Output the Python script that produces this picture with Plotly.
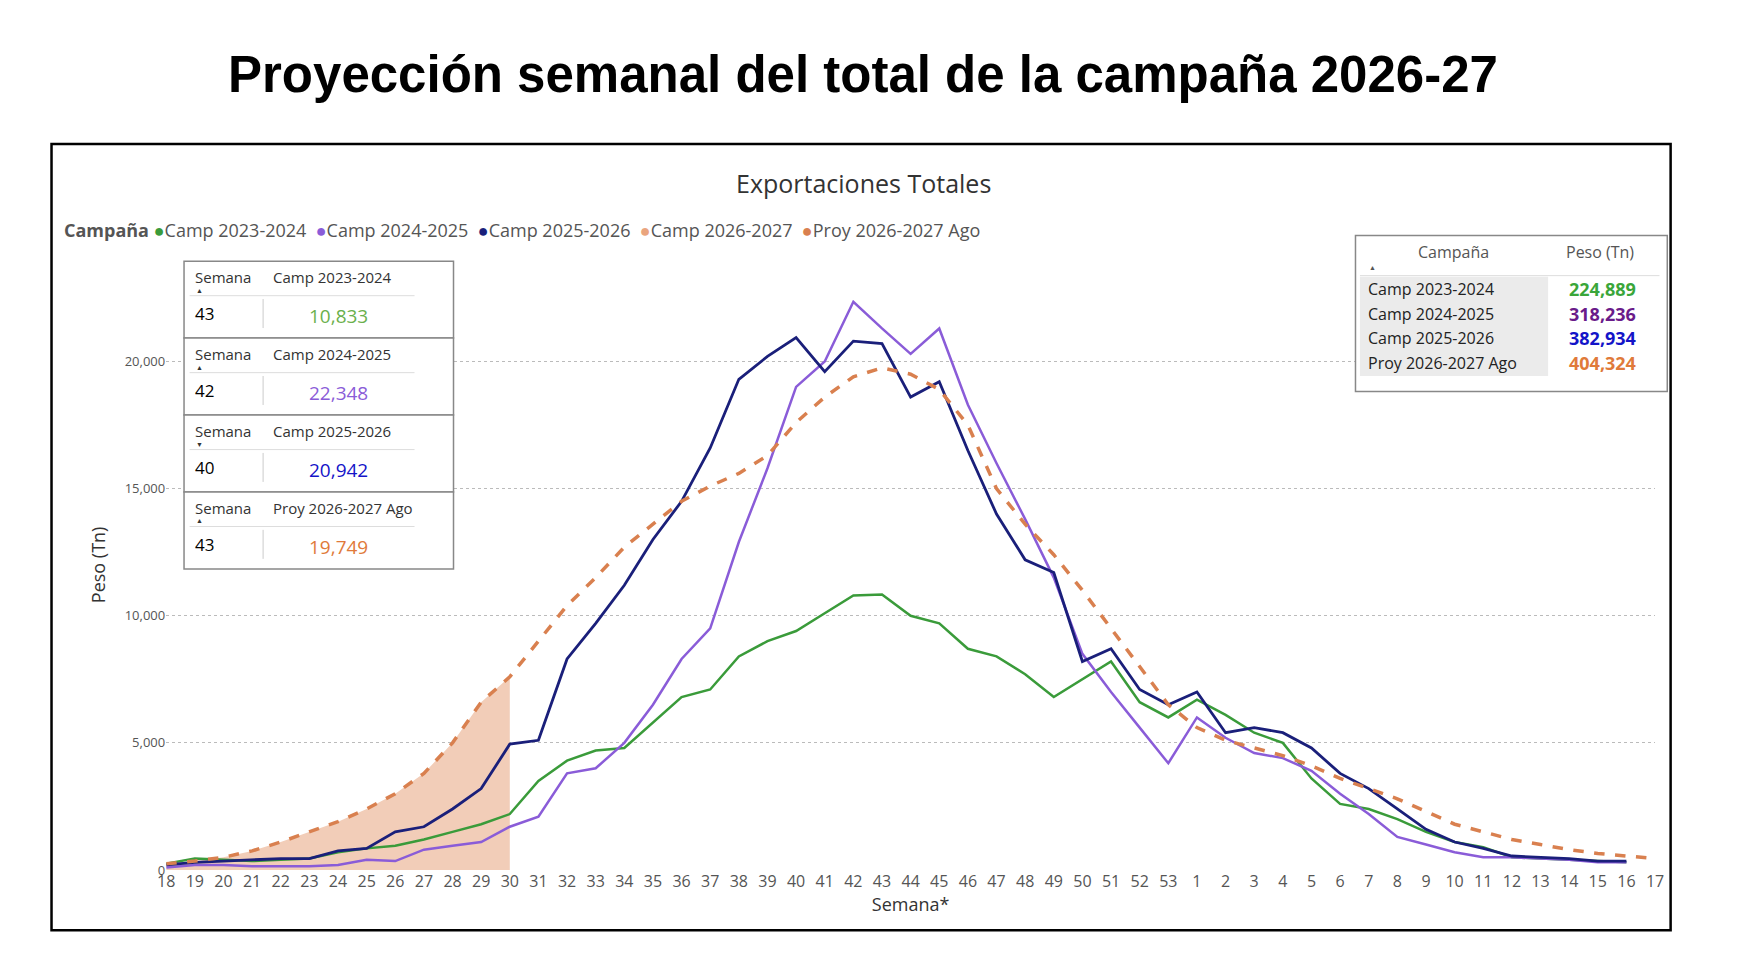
import plotly.graph_objects as go

weeks = [str(w) for w in list(range(18, 54)) + list(range(1, 18))]

camp_2023_24 = [0.25, 0.45, 0.4, 0.35, 0.4, 0.45, 0.7, 0.85, 0.95, 1.2, 1.5, 1.8, 2.2,
                3.5, 4.3, 4.7, 4.8, 5.8, 6.8, 7.1, 8.4, 9.0, 9.4, 10.1, 10.8, 10.833,
                10.0, 9.7, 8.7, 8.4, 7.7, 6.8, 7.5, 8.2, 6.6, 6.0, 6.7, 6.1, 5.4, 5.0,
                3.6, 2.6, 2.4, 2.0, 1.5, 1.1, 0.9, 0.5, 0.45, 0.4, 0.35, 0.3]
camp_2024_25 = [0.1, 0.2, 0.2, 0.15, 0.15, 0.15, 0.2, 0.4, 0.35, 0.8, 0.95, 1.1, 1.7,
                2.1, 3.8, 4.0, 5.0, 6.5, 8.3, 9.5, 12.9, 15.8, 19.0, 20.0, 22.348, 21.3,
                20.3, 21.3, 18.3, 16.0, 13.8, 11.5, 8.5, 7.0, 5.6, 4.2, 6.0, 5.2, 4.6,
                4.4, 3.9, 3.0, 2.2, 1.3, 1.0, 0.7, 0.5, 0.5, 0.45, 0.4, 0.3, 0.3]
camp_2025_26 = [0.2, 0.3, 0.35, 0.4, 0.45, 0.45, 0.75, 0.85, 1.5, 1.7, 2.4, 3.2, 4.95,
                5.1, 8.3, 9.7, 11.2, 13.0, 14.5, 16.6, 19.3, 20.2, 20.942, 19.6, 20.8,
                20.7, 18.6, 19.2, 16.5, 14.0, 12.2, 11.7, 8.2, 8.7, 7.1, 6.5, 7.0, 5.4,
                5.6, 5.4, 4.8, 3.8, 3.2, 2.4, 1.6, 1.1, 0.85, 0.55, 0.5, 0.45, 0.35, 0.35]
proy_2026_27 = [0.25, 0.35, 0.5, 0.75, 1.1, 1.5, 1.9, 2.4, 3.0, 3.8, 5.0, 6.6, 7.6,
                9.0, 10.4, 11.5, 12.7, 13.6, 14.5, 15.1, 15.6, 16.3, 17.6, 18.6, 19.4,
                19.749, 19.5, 18.9, 17.5, 15.0, 13.6, 12.4, 11.0, 9.5, 8.0, 6.5, 5.6,
                5.1, 4.8, 4.5, 4.1, 3.6, 3.2, 2.8, 2.3, 1.8, 1.5, 1.2, 1.0, 0.8, 0.65,
                0.55, 0.45]
camp_2026_27 = proy_2026_27[:13]  # weeks 18-30 observed

to_tn = lambda v: [x * 1000 for x in v]

summary_names = ["Camp 2023-2024", "Camp 2024-2025", "Camp 2025-2026", "Proy 2026-2027 Ago"]
summary_values = ["224,889", "318,236", "382,934", "404,324"]
summary_colors = ["#3aa63a", "#6a1b8a", "#1414c8", "#e07a3a"]

peak_names = ["Camp 2023-2024", "Camp 2024-2025", "Camp 2025-2026", "Proy 2026-2027 Ago"]
peak_weeks = ["43", "42", "40", "43"]
peak_values = ["10,833", "22,348", "20,942", "19,749"]
peak_colors = ["#6ab04c", "#8a5cd8", "#1414c8", "#e07a3a"]
peak_arrows = ["▲", "▲", "▼", "▲"]

GREEN, PURPLE, NAVY, ORANGE = "#3a9b3a", "#8a5cd8", "#1a1f7a", "#d9804f"

W, H = 1550.0, 860.0
px = lambda x: (x - 15) / W
py = lambda y: 1 - (y - 8) / H


def note(text, x, y, size, color="#333", xanchor="center", **kw):
    return dict(text=text, x=px(x), y=py(y), xref="paper", yref="paper",
                xanchor=xanchor, yanchor="middle", showarrow=False,
                font=dict(size=size, color=color, **kw))


fig = go.Figure()
fig.add_trace(go.Scatter(x=weeks[:13], y=to_tn(camp_2026_27), mode="lines",
                         line=dict(width=0), fill="tozeroy", fillcolor="#f2cdb8",
                         name="Camp 2026-2027"))
fig.add_trace(go.Scatter(x=weeks[:52], y=to_tn(camp_2023_24), mode="lines",
                         line=dict(color=GREEN, width=2.5), name="Camp 2023-2024"))
fig.add_trace(go.Scatter(x=weeks[:52], y=to_tn(camp_2024_25), mode="lines",
                         line=dict(color=PURPLE, width=2.5), name="Camp 2024-2025"))
fig.add_trace(go.Scatter(x=weeks[:52], y=to_tn(camp_2025_26), mode="lines",
                         line=dict(color=NAVY, width=2.8), name="Camp 2025-2026"))
fig.add_trace(go.Scatter(x=weeks, y=to_tn(proy_2026_27), mode="lines",
                         line=dict(color=ORANGE, width=3.5, dash="dash"),
                         name="Proy 2026-2027 Ago"))

fig.update_layout(
    width=1744, height=968, margin=dict(l=0, r=0, t=0, b=0),
    plot_bgcolor="white", paper_bgcolor="white", showlegend=False,
    font=dict(family="Open Sans, Segoe UI, sans-serif", color="#333"),
)
fig.update_xaxes(type="category", categoryorder="array", categoryarray=weeks,
                 range=[0, 52], domain=[px(149), px(1486)], showgrid=False,
                 tickfont=dict(size=16, color="#555"), ticks="", showline=False,
                 title=dict(text="Semana*", font=dict(size=18, color="#333"), standoff=4))
y0 = py(781)
fig.update_yaxes(range=[0, 24000], domain=[y0, y0 + (py(325) - y0) * 1.2],
                 tickvals=[0, 5000, 10000, 15000, 20000], tickformat=",",
                 tickfont=dict(size=13, color="#555"), showgrid=True,
                 gridcolor="#bbb", griddash="dot", zeroline=False,
                 title=dict(text="Peso (Tn)", font=dict(size=18, color="#333"), standoff=14))

shapes, ann = [], []
shapes.append(dict(type="rect", xref="paper", yref="paper", x0=px(46), x1=px(1500),
                   y0=py(835), y1=py(130), line=dict(color="black", width=2.5)))
ann.append(note("<b>Proyección semanal del total de la campaña 2026-27</b>", 775, 68,
                51, "black", family="Liberation Sans, Arial"))
ann.append(note("Exportaciones Totales", 775, 165, 25))
legend = ("<b>Campaña</b> "
          f"<span style='color:{GREEN}'>●</span>Camp 2023-2024  "
          f"<span style='color:{PURPLE}'>●</span>Camp 2024-2025  "
          f"<span style='color:{NAVY}'>●</span>Camp 2025-2026  "
          "<span style='color:#eaa57e'>●</span>Camp 2026-2027  "
          f"<span style='color:{ORANGE}'>●</span>Proy 2026-2027 Ago")
ann.append(note(legend, 55, 207, 18, "#555", xanchor="left"))

# left peak tables
tops = [235, 304, 373, 442]
for i, t in enumerate(tops):
    b = t + 69 if i < 3 else 511
    shapes.append(dict(type="rect", xref="paper", yref="paper", x0=px(165), x1=px(407),
                       y0=py(b), y1=py(t), line=dict(color="#888", width=1.5),
                       fillcolor="white", layer="above"))
    shapes.append(dict(type="line", xref="paper", yref="paper", x0=px(170), x1=px(372),
                       y0=py(t + 31), y1=py(t + 31), line=dict(color="#ddd", width=1),
                       layer="above"))
    shapes.append(dict(type="line", xref="paper", yref="paper", x0=px(236), x1=px(236),
                       y0=py(t + 34), y1=py(t + 60), line=dict(color="#ccc", width=1),
                       layer="above"))
    ann.append(note("Semana", 173, t + 14, 15, xanchor="left"))
    ann.append(note(peak_arrows[i], 174, t + 26, 7, xanchor="left"))
    ann.append(note(peak_names[i], 243, t + 14, 15, xanchor="left"))
    ann.append(note(peak_weeks[i], 173, t + 47, 17, "black", xanchor="left"))
    ann.append(note(peak_values[i], 304, t + 49, 19, peak_colors[i]))

# right summary table
shapes.append(dict(type="rect", xref="paper", yref="paper", x0=px(1217), x1=px(1497),
                   y0=py(352), y1=py(212), line=dict(color="#888", width=1.5),
                   fillcolor="white", layer="above"))
shapes.append(dict(type="rect", xref="paper", yref="paper", x0=px(1221), x1=px(1390),
                   y0=py(338), y1=py(249), line=dict(width=0), fillcolor="#ebebeb",
                   layer="above"))
shapes.append(dict(type="line", xref="paper", yref="paper", x0=px(1221), x1=px(1490),
                   y0=py(248), y1=py(248), line=dict(color="#ddd", width=1), layer="above"))
ann.append(note("Campaña", 1305, 227, 16, "#555"))
ann.append(note("▲", 1227, 241, 7, "#555", xanchor="left"))
ann.append(note("Peso (Tn)", 1437, 227, 16, "#555"))
for i, (n, v) in enumerate(zip(summary_names, summary_values)):
    yy = 260 + 22 * i
    ann.append(note(n, 1226, yy, 16, "#222", xanchor="left"))
    ann.append(note(f"<b>{v}</b>", 1471, yy, 18, summary_colors[i], xanchor="right"))

fig.update_layout(shapes=shapes, annotations=ann)
fig.write_html("out.html")
